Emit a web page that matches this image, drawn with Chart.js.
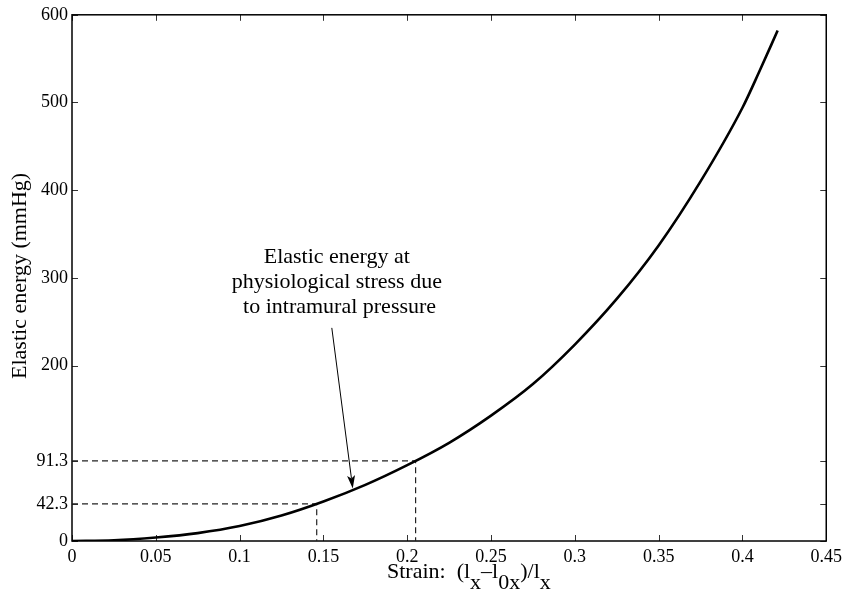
<!DOCTYPE html>
<html>
<head>
<meta charset="utf-8">
<script src="https://cdn.jsdelivr.net/npm/chart.js@4"></script>
<style>
  html, body { margin: 0; padding: 0; background: #fff; }
  #wrap { width: 847px; height: 595px; }
</style>
</head>
<body>
<div id="wrap"><canvas id="energyChart" width="847" height="595"></canvas></div>
<script>
// curve
var strain = [0, 0.025, 0.05, 0.075, 0.1, 0.125, 0.15, 0.175, 0.2, 0.225, 0.25, 0.275, 0.3, 0.325, 0.35, 0.375, 0.4, 0.41, 0.421];
var energy = [0, 0.8, 4, 9, 17, 29, 45, 64, 86.5, 112, 143, 179, 224, 276, 337, 410, 494, 535, 582];

// marked physiological points (dashed guides)
var markStrain = [0.146, 0.205];
var markEnergy = [42.3, 91.3];

var xTicks = [0, 0.05, 0.1, 0.15, 0.2, 0.25, 0.3, 0.35, 0.4, 0.45];
var yTicks = [0, 42.3, 91.3, 200, 300, 400, 500, 600];

var noteLines = ['Elastic energy at', 'physiological stress due', ' to intramural pressure'];

var serif = '"Liberation Serif", "Times New Roman", serif';

var curve = strain.map(function(s, i) { return { x: s, y: energy[i] }; });

function guide(i) {
    return {
        data: [{ x: 0, y: markEnergy[i] }, { x: markStrain[i], y: markEnergy[i] }, { x: markStrain[i], y: 0 }],
        borderColor: '#222',
        borderWidth: 1.2,
        borderDash: [6, 4],
        pointRadius: 0,
        tension: 0,
        fill: false
    };
}

// box + inward ticks, MATLAB style
var frame = {
    id: 'frame',
    beforeDatasetsDraw: function(chart) {
        var ctx = chart.ctx, a = chart.chartArea;
        var sx = chart.scales.x, sy = chart.scales.y;
        ctx.save();
        ctx.strokeStyle = '#333';
        ctx.lineWidth = 1;
        ctx.beginPath();
        xTicks.forEach(function(v) {
            var px = Math.round(sx.getPixelForValue(v)) + 0.5;
            ctx.moveTo(px, a.bottom); ctx.lineTo(px, a.bottom - 6);
            ctx.moveTo(px, a.top); ctx.lineTo(px, a.top + 6);
        });
        yTicks.forEach(function(v) {
            var py = Math.round(sy.getPixelForValue(v)) + 0.5;
            ctx.moveTo(a.left, py); ctx.lineTo(a.left + 6, py);
            ctx.moveTo(a.right, py); ctx.lineTo(a.right - 6, py);
        });
        ctx.stroke();
        ctx.strokeStyle = '#000';
        ctx.lineWidth = 1.5;
        ctx.strokeRect(a.left, a.top, a.right - a.left, a.bottom - a.top);
        ctx.restore();
    },
    afterDatasetsDraw: function(chart) {
        var ctx = chart.ctx;
        var sx = chart.scales.x, sy = chart.scales.y;
        ctx.save();
        ctx.fillStyle = '#000';

        // annotation text
        ctx.font = '22px ' + serif;
        ctx.textAlign = 'center';
        ctx.textBaseline = 'middle';
        var tx = sx.getPixelForValue(0.158);
        var ty = sy.getPixelForValue(324);
        noteLines.forEach(function(t, i) { ctx.fillText(t, tx, ty + i * 25); });

        // arrow
        var x0 = sx.getPixelForValue(0.155), y0 = sy.getPixelForValue(243);
        var x1 = sx.getPixelForValue(0.1675), y1 = sy.getPixelForValue(60);
        var ang = Math.atan2(y1 - y0, x1 - x0);
        ctx.strokeStyle = '#000';
        ctx.lineWidth = 1;
        ctx.beginPath();
        ctx.moveTo(x0, y0);
        ctx.lineTo(x1 - 10 * Math.cos(ang), y1 - 10 * Math.sin(ang));
        ctx.stroke();
        ctx.beginPath();
        ctx.moveTo(x1, y1);
        ctx.lineTo(x1 - 13 * Math.cos(ang) + 4 * Math.sin(ang), y1 - 13 * Math.sin(ang) - 4 * Math.cos(ang));
        ctx.lineTo(x1 - 10 * Math.cos(ang), y1 - 10 * Math.sin(ang));
        ctx.lineTo(x1 - 13 * Math.cos(ang) - 4 * Math.sin(ang), y1 - 13 * Math.sin(ang) + 4 * Math.cos(ang));
        ctx.closePath();
        ctx.fill();

        // y axis title
        ctx.save();
        ctx.translate(20, (chart.chartArea.top + chart.chartArea.bottom) / 2 - 2);
        ctx.rotate(-Math.PI / 2);
        ctx.textAlign = 'center';
        ctx.textBaseline = 'middle';
        ctx.fillText('Elastic energy (mmHg)', 0, 0);
        ctx.restore();

        // x axis title with subscripts
        var parts = [['Strain:  (l', 0], ['x', 1], ['\u2013l', 0], ['0x', 1], [')/l', 0], ['x', 1]];
        var cx = 387, base = 578;
        ctx.textAlign = 'left';
        ctx.textBaseline = 'alphabetic';
        ctx.font = '22px ' + serif;
        parts.forEach(function(p) {
            ctx.fillText(p[0], cx, base + (p[1] ? 11 : 0));
            cx += ctx.measureText(p[0]).width;
        });
        ctx.restore();
    }
};

var ctx = document.getElementById('energyChart').getContext('2d');
var energyChart = new Chart(ctx, {
    type: 'line',
    data: {
        datasets: [
            {
                data: curve,
                borderColor: '#000',
                borderWidth: 2.6,
                pointRadius: 0,
                cubicInterpolationMode: 'monotone',
                fill: false
            },
            guide(0),
            guide(1)
        ]
    },
    options: {
        responsive: false,
        animation: false,
        layout: { padding: { top: 11, right: 17, left: 0, bottom: 0 } },
        plugins: {
            legend: { display: false },
            tooltip: { enabled: false }
        },
        scales: {
            x: {
                type: 'linear',
                min: 0,
                max: 0.45,
                afterBuildTicks: function(s) { s.ticks = xTicks.map(function(v) { return { value: v }; }); },
                afterFit: function(s) { s.height = 54; },
                grid: { display: false, drawTicks: false },
                border: { display: false },
                ticks: {
                    color: '#000',
                    padding: 5,
                    maxRotation: 0,
                    autoSkip: false,
                    font: { family: serif, size: 18 },
                    callback: function(v) { return String(v); }
                }
            },
            y: {
                type: 'linear',
                min: 0,
                max: 600,
                afterBuildTicks: function(s) { s.ticks = yTicks.map(function(v) { return { value: v }; }); },
                afterFit: function(s) { s.width = 72; },
                grid: { display: false, drawTicks: false },
                border: { display: false },
                ticks: {
                    color: '#000',
                    padding: 4,
                    autoSkip: false,
                    font: { family: serif, size: 18 },
                    callback: function(v) { return String(v); }
                }
            }
        }
    },
    plugins: [frame]
});
</script>
</body>
</html>
